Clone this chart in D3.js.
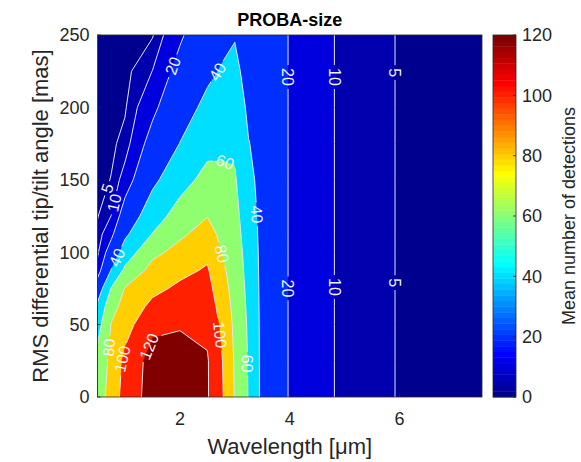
<!DOCTYPE html>
<html><head><meta charset="utf-8">
<script src="https://cdn.jsdelivr.net/npm/d3@7"></script>
<style>
body{margin:0;background:#fff;}
text{font-family:"Liberation Sans",Arial,Helvetica,sans-serif;}
</style></head>
<body><svg id="chart" width="581" height="462"></svg>
<script>
// ---------- data ----------
const wavelengths = [0.5,0.75,1.0,1.5,2.0,2.5,2.75,3.0,3.25,3.5,4.0,4.5,5.0,5.5,6.0,6.5,7.0,7.5];
const tipTilt = [0,25,50,62.5,75,87.5,100,112.5,125,150,175,200,225,250];
// mean number of detections, one array per wavelength (values along tipTilt)
const detections = [
  [72.7, 67, 52.2, 43.7, 28.3, 13.8, 8.6, 6.3, 4.7, 3.2, 2.8, 2.4, 2.1, 1.8],
  [85.75, 84.5, 80.75, 72.9, 61, 40.8, 27.4, 16.9, 10.1, 5.2, 4.0, 3.0, 2.5, 2.0],
  [109.5, 105, 92.3, 86.6, 80.9, 63.8, 48.9, 36.5, 26.9, 13.3, 6.6, 4.4, 3.4, 2.5],
  [127, 127.5, 115.7, 104.8, 95, 86.1, 75.3, 60.6, 51.1, 35.8, 25.4, 16.8, 10.1, 4.5],
  [128, 126, 118.8, 111.2, 103.6, 95.2, 85.9, 76.8, 67.9, 52.8, 40.3, 32.4, 24.8, 18],
  [121.5, 121.5, 116.2, 111.5, 106.8, 102.1, 95.5, 87.4, 79.5, 65.9, 54.3, 44.1, 36.6, 31],
  [104, 102.5, 97.3, 93.1, 88.8, 84.6, 80.3, 76.3, 72.3, 64.2, 56.4, 48.8, 41.2, 35],
  [79, 78, 76, 74.5, 73, 71.5, 70, 68, 66, 62, 57, 50, 44, 39],
  [59, 58.5, 57.5, 56.3, 55, 53.5, 52, 50, 48, 44, 40.5, 37, 34, 32],
  [35, 35, 35, 35, 35, 35, 35, 35, 35, 35, 35, 35, 35, 35],
  [19, 19, 19, 19, 19, 19, 19, 19, 19, 19, 19, 19, 19, 19],
  [12.5, 12.5, 12.5, 12.5, 12.5, 12.5, 12.5, 12.5, 12.5, 12.5, 12.5, 12.5, 12.5, 12.5],
  [8.5, 8.5, 8.5, 8.5, 8.5, 8.5, 8.5, 8.5, 8.5, 8.5, 8.5, 8.5, 8.5, 8.5],
  [6.5, 6.5, 6.5, 6.5, 6.5, 6.5, 6.5, 6.5, 6.5, 6.5, 6.5, 6.5, 6.5, 6.5],
  [4.7, 4.7, 4.7, 4.7, 4.7, 4.7, 4.7, 4.7, 4.7, 4.7, 4.7, 4.7, 4.7, 4.7],
  [3.6, 3.6, 3.6, 3.6, 3.6, 3.6, 3.6, 3.6, 3.6, 3.6, 3.6, 3.6, 3.6, 3.6],
  [2.8, 2.8, 2.8, 2.8, 2.8, 2.8, 2.8, 2.8, 2.8, 2.8, 2.8, 2.8, 2.8, 2.8],
  [2.2, 2.2, 2.2, 2.2, 2.2, 2.2, 2.2, 2.2, 2.2, 2.2, 2.2, 2.2, 2.2, 2.2]
];
const levels = [5,10,20,40,60,80,100,120];
const xTicks = [2,4,6];
const yTicks = [0,50,100,150,200,250];
const cbTicks = [0,20,40,60,80,100,120];
// contour label anchors (level, wavelength, tip/tilt)
const labelLevels = [20,40,60,40,80,100,60,120,100,80,40,10,5,20,10,5,20,10,5];
const labelWl =     [1.93,2.71,2.80,3.35,2.78,2.71,3.15,1.49,0.98,0.75,0.93,0.82,0.69,3.95,4.82,5.91,3.95,4.82,5.91];
const labelTt =     [228,224,160,126,99,43,23,34,26,34,95,134,144,221,221,224,75,76,79];

// ---------- layout ----------
const W=581,H=462;
const P = {left:97.5, right:482, top:35, bottom:397};
const CB = {left:493, right:516};
const x = d3.scaleLinear().domain([0.5,7.5]).range([P.left,P.right]);
const y = d3.scaleLinear().domain([0,250]).range([P.bottom,P.top]);
const cbY = d3.scaleLinear().domain([0,120]).range([P.bottom,P.top]);
const axisColor = "#262626";

function jet64(i){
  const b = i<=8 ? (i+8)/16 : i<=24 ? 1 : i<=40 ? (40-i)/16 : 0;
  const g = i<=8 ? 0 : i<=24 ? (i-8)/16 : i<=40 ? 1 : i<=56 ? (56-i)/16 : 0;
  const r = i<=24 ? 0 : i<=40 ? (i-24)/16 : i<=56 ? 1 : (72-i)/16;
  return d3.rgb(r*255,g*255,b*255).formatHex();
}
function colorFor(v){ let i=Math.floor(v/120*64)+1; i=Math.max(1,Math.min(64,i)); return jet64(i); }

const svg = d3.select("#chart");
const defs = svg.append("defs");
defs.append("clipPath").attr("id","plotClip").append("rect")
  .attr("x",P.left).attr("y",P.top).attr("width",P.right-P.left).attr("height",P.bottom-P.top);

// ---------- contours ----------
const n = wavelengths.length, m = tipTilt.length;
const grid = new Array(n*m);
for (let j=0;j<m;j++) for (let i=0;i<n;i++) grid[j*n+i] = detections[i][j];
const contours = d3.contours().size([n,m]).thresholds(levels)(grid);
const idxX = d3.scaleLinear().domain(d3.range(n)).range(wavelengths).clamp(true);
const idxY = d3.scaleLinear().domain(d3.range(m)).range(tipTilt).clamp(true);
const toData = p => [idxX(p[0]-0.5), idxY(p[1]-0.5)];
const toPx = d => [x(d[0]), y(d[1])];

const plot = svg.append("g").attr("clip-path","url(#plotClip)");
plot.append("rect").attr("x",P.left).attr("y",P.top).attr("width",P.right-P.left).attr("height",P.bottom-P.top)
  .attr("fill",colorFor(0));
contours.forEach(c=>{
  const d = c.coordinates.map(poly=>poly.map(ring=>"M"+ring.map(p=>toPx(toData(p)).map(v=>v.toFixed(2)).join(",")).join("L")+"Z").join("")).join("");
  plot.append("path").attr("d",d).attr("fill",colorFor(c.value)).attr("fill-rule","evenodd");
});

// contour lines (without plot-boundary segments)
const eps=1e-6;
const sameEdge=(a,b,k,v)=>Math.abs(a[k]-v)<eps&&Math.abs(b[k]-v)<eps;
const onBoundary=(a,b)=>sameEdge(a,b,0,wavelengths[0])||sameEdge(a,b,0,wavelengths[n-1])||sameEdge(a,b,1,tipTilt[0])||sameEdge(a,b,1,tipTilt[m-1]);
const levelLines = new Map();
contours.forEach(c=>{
  const lines=[];
  c.coordinates.forEach(poly=>poly.forEach(ring=>{
    const pts = ring.map(toData);
    const f=pts[0], l=pts[pts.length-1];
    if (f[0]!==l[0]||f[1]!==l[1]) pts.push(f);
    let cur=null;
    for(let k=0;k<pts.length-1;k++){
      const a=pts[k], b=pts[k+1];
      if(onBoundary(a,b)){ if(cur){lines.push(cur);cur=null;} continue; }
      if(!cur) cur=[a];
      cur.push(b);
    }
    if(cur) lines.push(cur);
  }));
  levelLines.set(c.value, lines.map(l=>l.map(toPx)));
});

const mask = defs.append("mask").attr("id","lblMask").attr("maskUnits","userSpaceOnUse")
  .attr("x",0).attr("y",0).attr("width",W).attr("height",H);
mask.append("rect").attr("x",0).attr("y",0).attr("width",W).attr("height",H).attr("fill","#fff");

const lineG = plot.append("g").attr("mask","url(#lblMask)");
const line = d3.line();
levels.forEach(L=>{
  (levelLines.get(L)||[]).forEach(pl=>{
    lineG.append("path").attr("d",line(pl)).attr("fill","none")
      .attr("stroke","#e4e4ee").attr("stroke-width",1);
  });
});

// contour labels
const labelG = plot.append("g");
labelLevels.forEach((L,k)=>{
  const p = [x(labelWl[k]), y(labelTt[k])];
  let best=null;
  (levelLines.get(L)||[]).forEach(pl=>{
    for(let s=0;s<pl.length-1;s++){
      const a=pl[s], b=pl[s+1];
      const dx=b[0]-a[0], dy=b[1]-a[1], len2=dx*dx+dy*dy;
      if(len2<1e-9) continue;
      let t=((p[0]-a[0])*dx+(p[1]-a[1])*dy)/len2; t=Math.max(0,Math.min(1,t));
      const q=[a[0]+t*dx,a[1]+t*dy];
      const d2=(q[0]-p[0])**2+(q[1]-p[1])**2;
      if(!best||d2<best.d2) best={d2,q,ang:Math.atan2(dy,dx)};
    }
  });
  if(!best) return;
  let deg=best.ang*180/Math.PI;
  if(deg>90) deg-=180;
  if(deg<=-90) deg+=180;
  const tr=`translate(${best.q[0].toFixed(2)},${best.q[1].toFixed(2)}) rotate(${deg.toFixed(1)})`;
  const t = labelG.append("text").attr("transform",tr).attr("text-anchor","middle")
    .attr("dy","0.36em").attr("font-size",16).attr("fill","#f4f4f8").text(L);
  const w = t.node().getComputedTextLength()+6;
  mask.append("rect").attr("transform",tr).attr("x",-w/2).attr("y",-7.5).attr("width",w).attr("height",15).attr("fill","#000");
});

// ---------- axes ----------
const ax = svg.append("g");
ax.append("rect").attr("x",P.left).attr("y",P.top).attr("width",P.right-P.left).attr("height",P.bottom-P.top)
  .attr("fill","none").attr("stroke",axisColor).attr("stroke-width",0.8);
yTicks.forEach(v=>{
  ax.append("line").attr("x1",P.left).attr("x2",P.left+3).attr("y1",y(v)).attr("y2",y(v)).attr("stroke",axisColor).attr("stroke-width",0.8);
  ax.append("text").attr("x",P.left-8).attr("y",y(v)).attr("dy","0.36em").attr("text-anchor","end")
    .attr("font-size",18).attr("fill",axisColor).text(v);
});
xTicks.forEach(v=>{
  ax.append("line").attr("x1",x(v)).attr("x2",x(v)).attr("y1",P.bottom).attr("y2",P.bottom-3).attr("stroke",axisColor).attr("stroke-width",0.8);
  ax.append("text").attr("x",x(v)).attr("y",P.bottom+28).attr("text-anchor","middle")
    .attr("font-size",18).attr("fill",axisColor).text(v);
});
svg.append("text").attr("x",(P.left+P.right)/2).attr("y",26).attr("text-anchor","middle")
  .attr("font-size",18).attr("font-weight","bold").attr("fill","#000").text("PROBA-size");
const xl = svg.append("text").attr("x",(P.left+P.right)/2).attr("y",454).attr("text-anchor","middle")
  .attr("font-size",22).attr("fill",axisColor);
xl.append("tspan").text("Wavelength [");
xl.append("tspan").text("\u03BC");
xl.append("tspan").text("m]");
svg.append("text").attr("transform",`translate(48,${(P.top+P.bottom)/2}) rotate(-90)`).attr("text-anchor","middle")
  .attr("font-size",22).attr("fill",axisColor).text("RMS differential tip/tilt angle [mas]");

// ---------- colorbar ----------
const cb = svg.append("g");
for(let k=0;k<64;k++){
  const v0=k*120/64, v1=(k+1)*120/64;
  cb.append("rect").attr("x",CB.left).attr("width",CB.right-CB.left)
    .attr("y",cbY(v1)).attr("height",cbY(v0)-cbY(v1)+0.4).attr("fill",jet64(k+1));
}
cb.append("rect").attr("x",CB.left).attr("y",P.top).attr("width",CB.right-CB.left).attr("height",P.bottom-P.top)
  .attr("fill","none").attr("stroke",axisColor).attr("stroke-width",0.8);
cbTicks.forEach(v=>{
  cb.append("line").attr("x1",CB.right-3).attr("x2",CB.right).attr("y1",cbY(v)).attr("y2",cbY(v)).attr("stroke",axisColor).attr("stroke-width",0.8);
  cb.append("text").attr("x",CB.right+6).attr("y",cbY(v)).attr("dy","0.36em").attr("font-size",18).attr("fill",axisColor).text(v);
});
svg.append("text").attr("transform",`translate(575,${(P.top+P.bottom)/2}) rotate(-90)`).attr("text-anchor","middle")
  .attr("font-size",18).attr("fill",axisColor).text("Mean number of detections");
</script>
</body></html>
